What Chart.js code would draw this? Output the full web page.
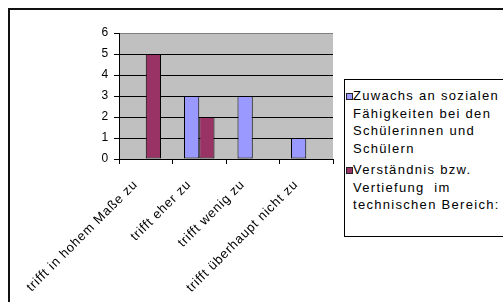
<!DOCTYPE html>
<html>
<head>
<meta charset="utf-8">
<script src="https://cdn.jsdelivr.net/npm/chart.js@4/dist/chart.umd.min.js"></script>
<style>
  html, body { margin: 0; padding: 0; width: 503px; height: 302px; overflow: hidden; background: #fff; }
  #frame { position: absolute; left: 8px; top: 8px; width: 700px; height: 500px; border-left: 2px solid #111; border-top: 2px solid #111; }
  #wrap { position: absolute; left: 0; top: 0; width: 503px; height: 302px; }
  #legend { position: absolute; left: 344px; top: 79px; width: 220px; height: 156px; border: 1px solid #000; background: #fff;
    font-family: "Liberation Sans", Arial, sans-serif; font-size: 13px; line-height: 17.5px; letter-spacing: 1.3px; color: #000; }
  .item { position: absolute; left: 8px; }
  .sw { position: absolute; left: 1px; width: 5px; height: 5px; border: 1px solid #222; }
</style>
</head>
<body>
<div id="frame"></div>
<div id="wrap"><canvas id="c" width="503" height="302"></canvas></div>
<div id="legend"></div>
<script>
const categories = ["trifft in hohem Maße zu", "trifft eher zu", "trifft wenig zu", "trifft überhaupt nicht zu"];
const seriesNames = [
  ["Zuwachs an sozialen", "Fähigkeiten bei den", "Schülerinnen und", "Schülern"],
  ["Verständnis bzw.", "Vertiefung  im", "technischen Bereich:"]
];
const sozial = [0, 3, 3, 1];
const technisch = [5, 2, 0, 0];
const yTicks = [0, 1, 2, 3, 4, 5, 6];
const colors = ["#9999FF", "#993366"];

const bgPlugin = {
  id: 'plotBg',
  beforeDraw(chart) {
    const a = chart.chartArea, ctx = chart.ctx;
    ctx.save();
    ctx.fillStyle = '#C0C0C0';
    ctx.fillRect(a.left, a.top, a.right - a.left, a.bottom - a.top);
    ctx.restore();
    ctx.letterSpacing = '0.8px';
  }
};

new Chart(document.getElementById('c'), {
  type: 'bar',
  data: {
    labels: categories,
    datasets: [
      { label: seriesNames[0].join(' '), data: sozial, backgroundColor: colors[0], borderColor: '#000',
        borderWidth: c => (c.raw ? 1 : 0), borderSkipped: false },
      { label: seriesNames[1].join(' '), data: technisch, backgroundColor: colors[1], borderColor: '#000',
        borderWidth: c => (c.raw ? 1 : 0), borderSkipped: false }
    ]
  },
  options: {
    responsive: false,
    animation: false,
    events: [],
    layout: { padding: { left: 20, top: 33, right: 170, bottom: 0 } },
    datasets: { bar: { categoryPercentage: 0.57, barPercentage: 1.0 } },
    plugins: { legend: { display: false }, tooltip: { enabled: false } },
    scales: {
      x: {
        afterFit: s => { s.height = 143; },
        border: { display: true, color: '#000', width: 1 },
        grid: {
          offset: true, drawOnChartArea: true, tickLength: 5, tickColor: '#000',
          color: c => (c.index === categories.length ? '#808080' : 'rgba(0,0,0,0)'),
          lineWidth: 1
        },
        ticks: {
          color: '#000', font: { size: 13, family: '"Liberation Sans", Arial, sans-serif' },
          minRotation: 45, maxRotation: 45, autoSkip: false, padding: 13, labelOffset: -10
        }
      },
      y: {
        min: 0, max: 6,
        afterFit: s => { s.width = 99; },
        afterBuildTicks: s => { s.ticks = yTicks.map(v => ({ value: v })); },
        border: { display: true, color: '#000', width: 1 },
        grid: {
          tickLength: 5, tickColor: '#000',
          color: c => (c.tick && c.tick.value === 6 ? '#808080' : '#000'),
          lineWidth: 1
        },
        ticks: { color: '#000', padding: 5, font: { size: 12, family: '"Liberation Sans", Arial, sans-serif' } }
      }
    }
  },
  plugins: [bgPlugin]
});

// HTML legend built from series names and colours
const legend = document.getElementById('legend');
const itemTops = [7, 81];
seriesNames.forEach((lines, i) => {
  const it = document.createElement('div');
  it.className = 'item';
  it.style.top = itemTops[i] + 'px';
  it.innerHTML = lines.map(l => l.replace(/ /g, '&nbsp;')).join('<br>');
  legend.appendChild(it);
  const sw = document.createElement('div');
  sw.className = 'sw';
  sw.style.top = (itemTops[i] + 6) + 'px';
  sw.style.background = colors[i];
  legend.appendChild(sw);
});
</script>
</body>
</html>
